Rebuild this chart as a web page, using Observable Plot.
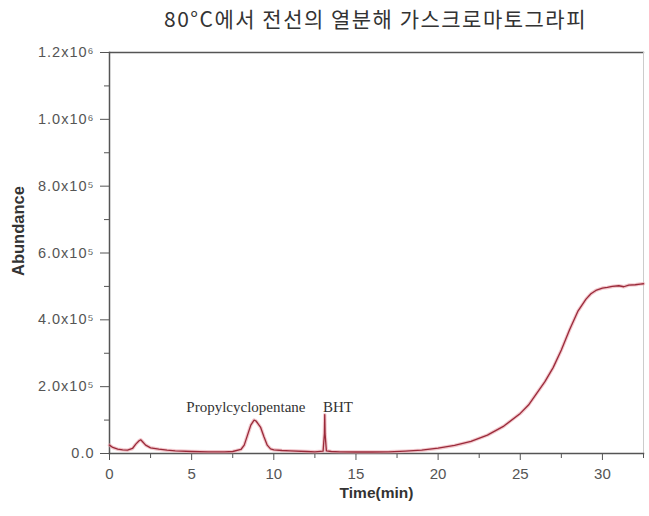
<!DOCTYPE html>
<html>
<head>
<meta charset="utf-8">
<script src="https://cdn.jsdelivr.net/npm/d3@7"></script>
<script src="https://cdn.jsdelivr.net/npm/@observablehq/plot@0.6"></script>
<style>
  body { margin: 0; background: #fff; }
  #title {
    height: 36px; width: 649px; box-sizing: border-box;
    padding-left: 102px; line-height: 37px; text-align: center;
    font-family: "Noto Sans CJK KR", sans-serif; font-size: 21px; letter-spacing: 1.5px; color: #333;
    white-space: nowrap;
  }
</style>
</head>
<body>
<div id="title">80°C에서 전선의 열분해 가스크로마토그라피</div>
<div id="chart"></div>
<script>
// Retention time (min) and detector abundance of the chromatogram trace
const time = [0, 0.2, 0.5, 0.8, 1.1, 1.4, 1.6, 1.8, 1.9, 2.0, 2.2, 2.5, 3, 3.5, 4, 5, 6, 7, 7.5,
  8, 8.2, 8.4, 8.6, 8.8, 8.9, 9.0, 9.2, 9.4, 9.6, 9.8, 10, 10.5, 11, 12, 12.5,
  13.0, 13.08, 13.1, 13.12, 13.2, 13.5, 14, 15, 16, 17, 18, 19, 20, 21, 22, 23, 24,
  25, 25.5, 26, 26.5, 27, 27.5, 28, 28.5, 29, 29.3, 29.6, 30, 30.3, 30.6, 31, 31.3,
  31.6, 32, 32.3, 32.5];
const abundance = [25000, 18000, 13000, 11000, 10000, 15000, 28000, 38000, 41000, 36000, 25000,
  17000, 13000, 10000, 8000, 6000, 5000, 5000, 6000,
  12000, 25000, 55000, 85000, 100000, 98000, 92000, 78000, 50000, 25000, 14000, 11000, 9000, 8000, 6000, 5000,
  7000, 60000, 116000, 60000, 8000, 6000, 5000, 4500, 4500, 5000, 7000, 10000, 16000, 24000, 36000, 55000, 82000,
  120000, 145000, 180000, 215000, 257000, 310000, 370000, 425000, 462000, 478000, 488000, 495000, 497000, 500000,
  502000, 499000, 504000, 505000, 507000, 508000];

// Peak annotations
const peakNames = ["Propylcyclopentane", "BHT"];
const peakTime = [8.3, 13.9];
const peakLabelY = [140000, 140000];

// Axis ticks
const xTicks = [0, 5, 10, 15, 20, 25, 30];
const xMinor = [2.5, 7.5, 12.5, 17.5, 22.5, 27.5, 32.5];
const yTicks = [0, 200000, 400000, 600000, 800000, 1000000, 1200000];
const yTickLabels = ["0.0", "2.0x10⁵", "4.0x10⁵", "6.0x10⁵", "8.0x10⁵", "1.0x10⁶", "1.2x10⁶"];
const yMinor = [100000, 300000, 500000, 700000, 900000, 1100000];

const trace = time.map((t, i) => ({t, a: abundance[i]}));
const peaks = peakNames.map((name, i) => ({name, t: peakTime[i], a: peakLabelY[i]}));

const axisColor = "#555";

const chart = Plot.plot({
  width: 649,
  height: 480,
  marginLeft: 109,
  marginRight: 6,
  marginTop: 16,
  marginBottom: 63,
  style: {fontFamily: "'Liberation Sans', Arial, sans-serif", background: "#fff", fontSize: "13px"},
  x: {domain: [0, 32.5]},
  y: {domain: [0, 1200000]},
  marks: [
    Plot.frame({anchor: "top", stroke: axisColor, strokeWidth: 1.3}),
    Plot.frame({anchor: "right", stroke: "#ccc", strokeWidth: 1}),
    Plot.frame({anchor: "left", stroke: axisColor, strokeWidth: 1.5}),
    Plot.frame({anchor: "bottom", stroke: axisColor, strokeWidth: 1.5}),
    Plot.axisY(yTicks, {
      tickFormat: (d, i) => yTickLabels[i], tickSize: 9, tickPadding: 6,
      fontSize: 14.5, color: "#555", label: null
    }),
    Plot.axisY(yMinor, {tickSize: 5, tickFormat: null, text: null, color: "#555", label: null}),
    Plot.axisX(xTicks, {
      tickSize: 7, tickPadding: 8, fontSize: 15, color: "#555", label: null
    }),
    Plot.axisX(xMinor, {tickSize: 5, text: null, tickFormat: null, color: "#555", label: null}),
    // soft halo under the trace
    Plot.line(trace, {x: "t", y: "a", stroke: "#e9a3ab", strokeWidth: 3.5, strokeOpacity: 0.6}),
    Plot.line(trace, {x: "t", y: "a", stroke: "#9a2a3a", strokeWidth: 1.3}),
    Plot.text(peaks, {
      x: "t", y: "a", text: "name", fontFamily: "'Liberation Serif', 'Times New Roman', serif",
      fontSize: 15, fill: "#333"
    }),
    Plot.text(["Abundance"], {
      frameAnchor: "left", dx: -91, dy: 23, rotate: -90, fontSize: 16.5,
      fontWeight: "bold", fill: "#333"
    }),
    Plot.text(["Time(min)"], {
      frameAnchor: "bottom", dy: 44, fontSize: 15.5, fontWeight: "bold", fill: "#333"
    })
  ]
});
// slightly wider spacing on the y tick labels
d3.select(chart).selectAll('g[aria-label="y-axis tick label"] text').style("letter-spacing", "1px");
document.getElementById("chart").appendChild(chart);
</script>
</body>
</html>
